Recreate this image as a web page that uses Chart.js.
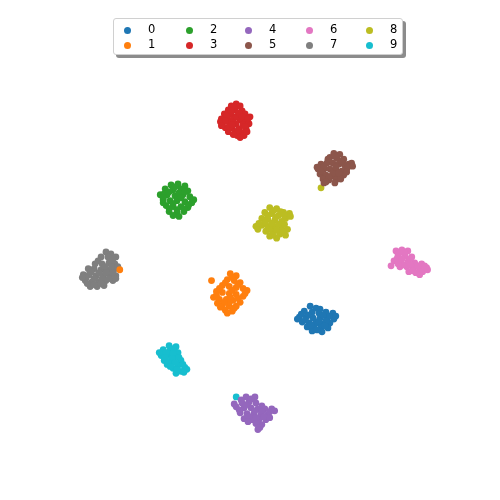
<!DOCTYPE html>
<html>
<head>
<meta charset="utf-8">
<script src="https://cdn.jsdelivr.net/npm/chart.js@4.4.0/dist/chart.umd.min.js"></script>
<style>
  body { margin: 0; background: #fff; }
  #wrap { position: relative; width: 500px; height: 500px; }
  #legend {
    position: absolute; left: 113px; top: 18px; width: 288px; height: 35px;
    background: #fff; border: 1px solid #d0d0d0; border-radius: 3px;
    box-shadow: 3px 3px 0 #8c8c8c;
    font-family: "DejaVu Sans", sans-serif; font-size: 11.5px; color: #000;
  }
  .item { position: absolute; }
  .dot { position: absolute; width: 7px; height: 7px; border-radius: 50%; }
</style>
</head>
<body>
<div id="wrap">
  <canvas id="scat" width="500" height="500"></canvas>
  <div id="legend"></div>
</div>
<script>
// digit labels and colours (tab10)
var labels = ['0', '1', '2', '3', '4', '5', '6', '7', '8', '9'];
var colors = ['#1f77b4', '#ff7f0e', '#2ca02c', '#d62728', '#9467bd',
              '#8c564b', '#e377c2', '#7f7f7f', '#bcbd22', '#17becf'];

// embedding coordinates, one array per digit
var digit0 = [[311,307],[321,310],[305,312],[313,313],[320,314],[327,313],[334,314],[300,318],[307,318],[314,319],
  [321,319],[328,319],[335,320],[303,323],[310,324],[317,324],[324,325],[331,324],[308,328],[315,329],
  [322,328],[329,329],[313,332],[323,333],[302,315],
  [317,309],[309,316],[324,316],[331,317],[306,321],[320,322],[327,322],[312,326],[326,327],[318,331],
  [337,317],[298,320]];
var digit1 = [[211,281],[230,274],[236,276],[227,280],[234,281],[240,283],[222,286],[229,287],[236,288],[243,289],
  [247,291],[216,292],[222,293],[229,294],[236,295],[243,297],[213,298],[219,300],[226,300],[233,301],
  [240,303],[222,306],[229,307],[236,307],[225,311],[232,312],[217,304],[230,298],[118,270],
  [232,278],[225,283],[238,285],[219,289],[232,291],[245,294],[216,296],[229,303],[224,303],[238,299],
  [220,308],[227,314],[234,309]];
var digit2 = [[170,184],[177,183],[184,185],[164,188],[172,189],[180,188],[187,190],[159,194],[166,194],[174,195],
  [182,194],[189,196],[162,199],[169,200],[176,200],[184,201],[191,202],[165,205],[172,206],[180,206],
  [187,207],[168,211],[176,212],[183,211],[178,216],[172,215],[163,193],[178,192],
  [174,186],[168,191],[184,191],[162,197],[180,197],[172,203],[188,204],[162,202],[176,209],[183,208],
  [193,199],[168,208]];
var digit3 = [[236,102],[231,104],[240,104],[228,108],[235,108],[242,109],[224,112],[231,112],[238,113],[245,112],
  [250,115],[221,117],[227,116],[233,117],[240,118],[246,119],[222,122],[229,121],[236,122],[243,123],
  [249,122],[225,126],[232,126],[239,127],[246,127],[228,130],[235,130],[242,131],[237,134],[244,134],
  [220,120],[229,125],[236,115],[233,121],
  [234,105],[231,109],[239,111],[226,114],[242,115],[248,117],[225,119],[232,123],[245,125],[221,124],
  [238,129],[233,133],[240,136],[247,130]];
var digit4 = [[246,399],[255,399],[242,405],[249,404],[256,405],[262,408],[236,409],[244,410],[251,410],[258,411],
  [265,411],[272,411],[240,415],[247,416],[254,416],[261,417],[268,417],[275,413],[244,421],[252,422],
  [259,422],[266,422],[262,427],[256,426],[260,430],[241,402],
  [251,401],[246,407],[239,412],[255,413],[262,414],[270,414],[249,419],[264,419],[256,420],[248,424],
  [270,420],[234,406],[258,432]];
var digit5 = [[335,152],[341,153],[331,156],[338,157],[345,158],[350,163],[353,162],[322,163],[328,162],[334,162],
  [340,163],[346,164],[319,168],[325,168],[331,168],[337,169],[343,170],[348,168],[321,173],[327,174],
  [333,175],[339,175],[345,174],[324,178],[330,179],[337,179],[342,178],[325,182],[334,172],[329,158],
  [336,155],[343,160],[325,165],[337,166],[349,166],[322,170],[340,172],[330,176],[348,171],[327,181],
  [336,182],[354,165],[318,166]];
var digit6 = [[398,251],[404,250],[410,251],[400,256],[407,256],[414,257],[396,261],[403,262],[410,262],[417,263],
  [424,264],[429,268],[393,266],[402,267],[409,267],[416,268],[422,270],[411,272],[418,273],[425,272],
  [401,253],[407,253],[412,259],[399,259],[405,265],[413,265],[420,266],[427,266],[415,271],[422,275],
  [400,264],[430,270],[404,259]];
var digit7 = [[104,252],[109,254],[114,257],[99,257],[93,264],[100,264],[107,263],[113,264],[86,269],[92,269],
  [99,270],[106,270],[112,270],[81,275],[87,275],[94,276],[101,276],[108,276],[114,276],[83,281],
  [90,282],[97,282],[104,281],[111,281],[88,287],[95,287],[102,286],
  [106,257],[111,259],[96,261],[103,267],[110,267],[89,272],[97,273],[104,273],[111,273],[84,278],
  [92,279],[100,279],[107,279],[114,279],[85,284],[92,285],[99,284],[80,278],[116,267]];
var digit8 = [[270,207],[277,208],[284,212],[290,213],[265,212],[272,213],[279,215],[286,218],[262,218],[268,219],
  [275,220],[282,221],[256,226],[262,225],[268,226],[275,227],[282,228],[288,229],[266,231],[273,232],
  [280,234],[270,236],[277,238],[274,226],[286,235],[322,187],
  [274,210],[281,211],[268,215],[285,215],[276,217],[265,222],[272,223],[279,224],[285,224],[259,223],
  [270,229],[277,230],[284,232],[273,235],[291,216],[258,229]];
var digit9 = [[168,347],[175,348],[162,351],[169,352],[177,354],[160,357],[167,357],[174,358],[180,362],[163,362],
  [170,363],[177,367],[184,369],[172,370],[180,373],[186,371],[175,375],[166,366],[236,399],
  [172,350],[165,354],[172,355],[164,359],[171,360],[178,359],[167,364],[174,364],[182,366],[176,371],
  [169,368],[183,374],[158,354]];

var digits = [digit0, digit1, digit2, digit3, digit4, digit5, digit6, digit7, digit8, digit9];

var datasets = digits.map(function (pts, i) {
  return {
    label: labels[i],
    data: pts.map(function (p) { return { x: p[0], y: p[1] }; }),
    backgroundColor: colors[i],
    borderWidth: 0,
    pointRadius: 3.4,
    pointHoverRadius: 3.4
  };
});

var ctx = document.getElementById('scat').getContext('2d');
var chart = new Chart(ctx, {
  type: 'scatter',
  data: { datasets: datasets },
  options: {
    responsive: false,
    animation: false,
    layout: { padding: 0 },
    plugins: { legend: { display: false }, tooltip: { enabled: false } },
    scales: {
      x: { type: 'linear', min: 0, max: 500, display: false },
      y: { type: 'linear', min: 0, max: 500, reverse: true, display: false }
    }
  }
});

// legend in two rows, filled column by column like the original
var leg = document.getElementById('legend');
var colX = [13, 75, 134, 195, 255];
var rowY = [11, 26];
labels.forEach(function (lab, i) {
  var col = Math.floor(i / 2), row = i % 2;
  var d = document.createElement('div');
  d.className = 'dot';
  d.style.left = (colX[col] - 3.5) + 'px';
  d.style.top = (rowY[row] - 3.5) + 'px';
  d.style.background = colors[i];
  leg.appendChild(d);
  var t = document.createElement('div');
  t.className = 'item';
  t.textContent = lab;
  t.style.left = (colX[col] + 21) + 'px';
  t.style.top = (rowY[row] - 8) + 'px';
  leg.appendChild(t);
});
</script>
</body>
</html>
